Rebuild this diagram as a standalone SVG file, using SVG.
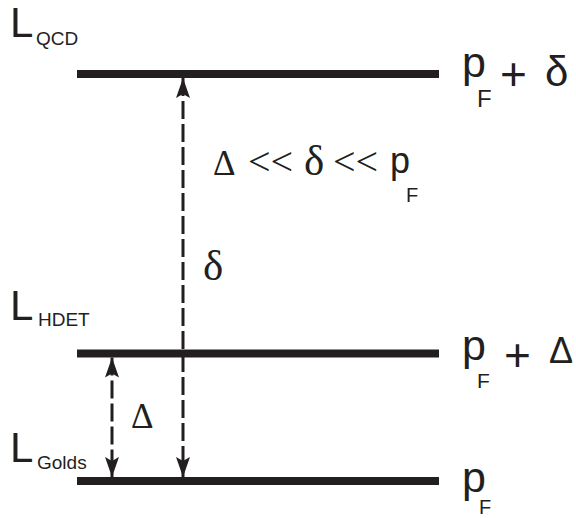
<svg xmlns="http://www.w3.org/2000/svg" width="576" height="518" viewBox="0 0 576 518">
<style>
.bar{stroke:#231f20;stroke-width:8;fill:none}
.dash{stroke:#231f20;stroke-width:3;fill:none;stroke-dasharray:18 5}
.s{font-family:"Liberation Sans",Arial,sans-serif;fill:#231f20}
.r{font-family:"Liberation Serif","Times New Roman",serif;fill:#231f20}
</style>
<defs>
<marker id="ah" viewBox="0 0 20 14" refX="20" refY="7" markerWidth="20" markerHeight="14" markerUnits="userSpaceOnUse" orient="auto-start-reverse">
<path d="M0,0 L20,7 L0,14 L4,7 z" fill="#231f20"/>
</marker>
</defs>
<rect width="576" height="518" fill="#fff"/>
<g id="level-qcd">
<line class="bar" x1="77" y1="74" x2="439" y2="74"/>
<text class="s" x="10" y="37" font-size="42">L</text>
<text class="s" x="36" y="45" font-size="19">QCD</text>
<text class="s" x="462" y="77" font-size="43">p</text>
<text class="s" x="477" y="107" font-size="24">F</text>
<text class="s" x="500" y="90" font-size="46">+</text>
<text class="s" x="545" y="86" font-size="42">δ</text>
</g>
<g id="level-hdet">
<line class="bar" x1="77" y1="353.5" x2="439" y2="353.5"/>
<text class="s" x="10" y="320" font-size="42">L</text>
<text class="s" x="38" y="326" font-size="19">HDET</text>
<text class="s" x="462" y="360" font-size="43">p</text>
<text class="s" x="477" y="388" font-size="21">F</text>
<text class="s" x="504" y="371" font-size="46">+</text>
<text class="s" x="549" y="363" font-size="36">Δ</text>
</g>
<g id="level-golds">
<line class="bar" x1="77" y1="481" x2="439" y2="481"/>
<text class="s" x="10" y="462" font-size="42">L</text>
<text class="s" x="37" y="469" font-size="19">Golds</text>
<text class="s" x="462" y="492" font-size="43">p</text>
<text class="s" x="479" y="514" font-size="20">F</text>
</g>
<g id="hierarchy-label">
<text class="r" x="213" y="175" font-size="35">Δ</text>
<text class="r" x="248" y="175" font-size="40">&lt;&lt;</text>
<text class="r" x="304" y="175" font-size="43">δ</text>
<text class="r" x="333" y="175" font-size="40">&lt;&lt;</text>
<text class="s" x="390" y="173" font-size="36">p</text>
<text class="s" x="406" y="202" font-size="20">F</text>
</g>
<g id="connectors">
<line class="dash" x1="183" y1="78" x2="183" y2="477" marker-start="url(#ah)" marker-end="url(#ah)"/>
<line class="dash" x1="112" y1="357.5" x2="112" y2="477" marker-start="url(#ah)" marker-end="url(#ah)"/>
<text class="r" x="203" y="280" font-size="43">δ</text>
<text class="r" x="131" y="428" font-size="35">Δ</text>
</g>
</svg>
